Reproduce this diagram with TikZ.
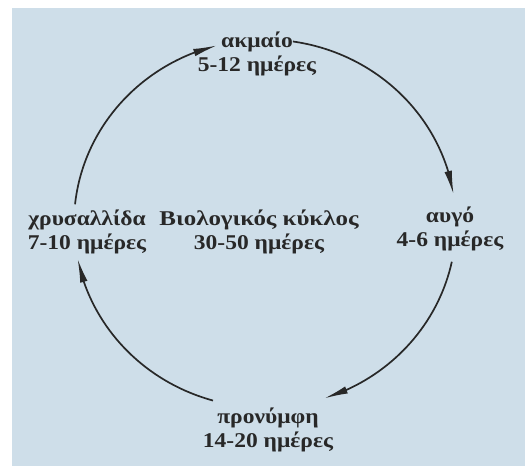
\documentclass[tikz,border=0pt]{standalone}
\usepackage{fontspec}
\setmainfont{Liberation Serif}[FakeStretch=1.12]
\usepackage{tikz}
\usetikzlibrary{arrows.meta,bending}
\definecolor{paleblue}{RGB}{206,222,233}
\definecolor{inkgray}{RGB}{40,40,40}

\begin{document}
\begin{tikzpicture}[x=1pt, y=1pt,
  stage/.style={align=center, text=inkgray, inner sep=1pt,
    font=\fontsize{21}{24}\selectfont\bfseries},
  cyc/.style={draw=inkgray, line width=1.7pt,
    -{Latex[length=24pt, width=7.5pt, flex]}},
]
  \fill[white] (0,0) rectangle (525,466);
  \fill[paleblue] (12,0) rectangle (525,458);
  \useasboundingbox (0,0) rectangle (525,466);

  \coordinate (c) at (265,242.5);
  \node[stage] (adult) at (257,412.5) {ακμαίο\\5-12 ημέρες};
  \node[stage] (egg) at (450,237) {αυγό\\4-6 ημέρες};
  \node[stage] (larva) at (268,36.5) {προνύμφη\\14-20 ημέρες};
  \node[stage] (pupa) at (87,234) {χρυσαλλίδα\\7-10 ημέρες};
  \node[stage] (cycle) at (259,234.5) {\scalebox{1.06}[1]{Βιολογικός κύκλος}\\30-50 ημέρες};

  \foreach \nm/\a in {p1/174, p2/81.6, p3/-12, p4/-105.8}
    \path (c) ++(\a:191 and 184) coordinate (\nm);

  \draw[cyc] (p1) arc[start angle=174, end angle=104.5, x radius=191pt, y radius=184pt];
  \draw[cyc] (p2) arc[start angle=81.6, end angle=9, x radius=191pt, y radius=184pt];
  \draw[cyc] (p3) arc[start angle=-12, end angle=-72, x radius=191pt, y radius=184pt];
  \draw[cyc] (p4) arc[start angle=-105.8, end angle=-169, x radius=191pt, y radius=184pt];
\end{tikzpicture}
\end{document}
